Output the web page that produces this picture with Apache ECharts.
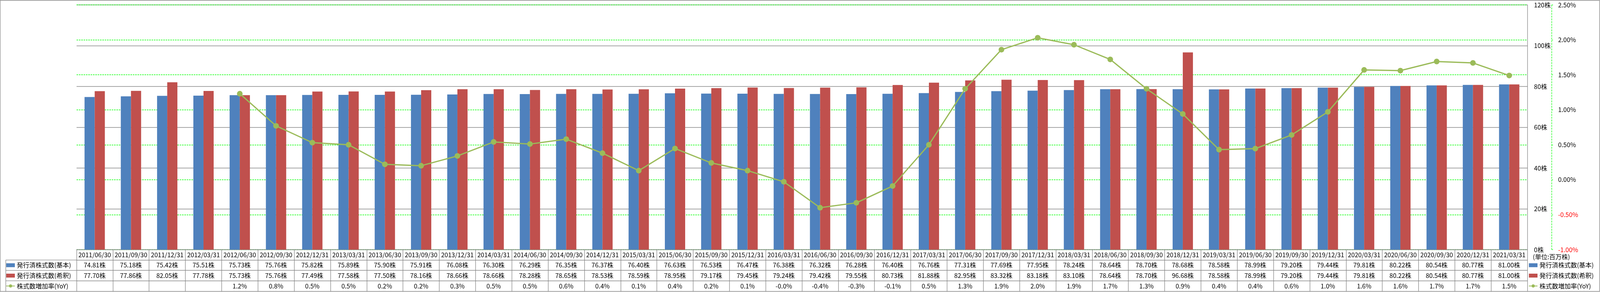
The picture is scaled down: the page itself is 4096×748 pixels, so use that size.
<!DOCTYPE html>
<html>
<head>
<meta charset="utf-8">
<script src="https://cdn.jsdelivr.net/npm/echarts@6/dist/echarts.min.js"></script>
<style>
html,body{margin:0;padding:0;background:#fff;}
#chart{width:4096px;height:748px;}
</style>
</head>
<body>
<div id="chart"></div>
<script>
// ---- data ----
const categories = ['2011/06/30','2011/09/30','2011/12/31','2012/03/31','2012/06/30','2012/09/30','2012/12/31','2013/03/31','2013/06/30','2013/09/30','2013/12/31','2014/03/31','2014/06/30','2014/09/30','2014/12/31','2015/03/31','2015/06/30','2015/09/30','2015/12/31','2016/03/31','2016/06/30','2016/09/30','2016/12/31','2017/03/31','2017/06/30','2017/09/30','2017/12/31','2018/03/31','2018/06/30','2018/09/30','2018/12/31','2019/03/31','2019/06/30','2019/09/30','2019/12/31','2020/03/31','2020/06/30','2020/09/30','2020/12/31','2021/03/31'];
const basicShares = [74.81,75.18,75.42,75.51,75.73,75.76,75.82,75.89,75.90,75.91,76.08,76.30,76.29,76.35,76.37,76.40,76.63,76.53,76.47,76.38,76.32,76.28,76.40,76.76,77.31,77.69,77.95,78.24,78.64,78.70,78.68,78.58,78.99,79.20,79.44,79.81,80.22,80.54,80.77,81.00];
const dilutedShares = [77.70,77.86,82.05,77.78,75.73,75.76,77.49,77.58,77.50,78.16,78.66,78.66,78.28,78.65,78.53,78.59,78.95,79.17,79.45,79.24,79.42,79.55,80.73,81.88,82.95,83.32,83.18,83.10,78.64,78.70,96.68,78.58,78.99,79.20,79.44,79.81,80.22,80.54,80.77,81.00];
const yoyGrowth = [null,null,null,null,1.23,0.77,0.53,0.50,0.22,0.20,0.34,0.54,0.51,0.58,0.38,0.13,0.446,0.24,0.13,-0.03,-0.40,-0.33,-0.09,0.50,1.30,1.86,2.03,1.93,1.72,1.30,0.94,0.43,0.445,0.64,0.97,1.57,1.56,1.69,1.67,1.49];
const seriesNames = ['発行済株式数(基本)','発行済株式数(希釈)','株式数増加率(YoY)'];
const leftTicks = [0,20,40,60,80,100,120];
const pctTicks = [-1.0,-0.5,0,0.5,1.0,1.5,2.0,2.5];
const unitLabel = '(単位:百万株)';

// ---- layout ----
const FONT = "'Noto Sans CJK JP','Noto Sans',sans-serif";
const GRAY = '#868686';
const BLUE = '#4F81BD', RED = '#C0504D', GREEN = '#9BBB59', LIME = '#00FF00';
const gridLeft = 196, gridRight = 3910, gridTop = 12.5, gridBottom = 639.5;
const rowH = 26.6;
const fs = 16;

function tableAxis(idx, labels) {
  return {
    type: 'category', gridIndex: 0, position: 'bottom', data: categories,
    offset: idx * rowH,
    axisLine: {show: true, onZero: false, lineStyle: {color: GRAY, width: 1.3}},
    axisTick: {show: false},
    axisPointer: {show: false},
    axisLabel: {interval: 0, margin: rowH / 2, verticalAlign: 'middle', fontSize: fs, color: '#000', fontFamily: FONT,
      formatter: (v, i) => labels[i]}
  };
}
const basicLabels = basicShares.map(v => v.toFixed(2) + '株');
const dilutedLabels = dilutedShares.map(v => v.toFixed(2) + '株');
const yoyLabels = yoyGrowth.map(v => v == null ? '' : v.toFixed(1) + '%');

const legendCommon = {
  orient: 'vertical', padding: 0, itemGap: rowH - 20, itemWidth: 22, itemHeight: 10,
  selectedMode: false,
  textStyle: {fontSize: fs, lineHeight: 20, color: '#000', fontFamily: FONT},
  data: [{name: seriesNames[0], icon: 'rect'}, {name: seriesNames[1], icon: 'rect'}, {name: seriesNames[2]}]
};

const option = {
  animation: false,
  backgroundColor: '#fff',
  textStyle: {fontFamily: FONT},
  grid: {left: gridLeft, right: 4096 - gridRight, top: gridTop, bottom: 748 - gridBottom},
  legend: [
    Object.assign({left: 15, top: gridBottom + rowH * 1.5 - 10}, legendCommon),
    Object.assign({left: 3913, top: gridBottom + rowH * 1.5 - 10}, legendCommon)
  ],
  xAxis: [
    {
      type: 'category', gridIndex: 0, position: 'bottom', data: categories,
      axisLine: {show: true, onZero: false, lineStyle: {color: GRAY, width: 1.3}},
      axisTick: {show: true, interval: 0, alignWithLabel: false, length: rowH * 4, lineStyle: {color: GRAY, width: 1.3}},
      axisLabel: {interval: 0, margin: rowH / 2, verticalAlign: 'middle', fontSize: fs, color: '#000', fontFamily: FONT}
    },
    tableAxis(1, basicLabels),
    tableAxis(2, dilutedLabels),
    tableAxis(3, yoyLabels)
  ],
  yAxis: [
    {
      type: 'value', position: 'right', min: leftTicks[0], max: leftTicks[leftTicks.length - 1], interval: 20,
      axisLine: {show: true, lineStyle: {color: GRAY, width: 1.3}},
      axisTick: {show: false},
      axisLabel: {margin: 17, fontSize: fs, color: '#000', fontFamily: FONT, formatter: '{value}株'},
      splitLine: {show: true, lineStyle: {color: GRAY, width: 1.3}}
    },
    {
      type: 'value', position: 'right', offset: 62.7, min: pctTicks[0], max: pctTicks[pctTicks.length - 1], interval: 0.5,
      axisLine: {show: true, lineStyle: {color: LIME, width: 1.2, type: [4, 3]}},
      axisTick: {show: true, length: 3, lineStyle: {color: LIME, width: 1.2}},
      axisLabel: {margin: 16, fontSize: fs, fontFamily: FONT,
        formatter: v => Number(v).toFixed(2) + '%',
        color: v => Number(v) < 0 ? '#FF0000' : '#000'},
      splitLine: {show: true, lineStyle: {color: LIME, width: 1.3, type: [4, 2]}}
    }
  ],
  series: [
    {name: seriesNames[0], type: 'bar', xAxisIndex: 0, yAxisIndex: 0, data: basicShares,
     itemStyle: {color: BLUE}, barGap: '0%', barCategoryGap: '44%'},
    {name: seriesNames[1], type: 'bar', xAxisIndex: 0, yAxisIndex: 0, data: dilutedShares,
     itemStyle: {color: RED}, barGap: '0%', barCategoryGap: '44%'},
    {name: seriesNames[2], type: 'line', xAxisIndex: 0, yAxisIndex: 1, data: yoyGrowth,
     symbol: 'circle', symbolSize: 14.5, showSymbol: true,
     lineStyle: {color: GREEN, width: 3.2}, itemStyle: {color: GREEN}, z: 5}
  ],
  graphic: [
    {type: 'rect', shape: {x: 0.5, y: 1, width: 4094.5, height: 745.5}, style: {fill: null, stroke: GRAY, lineWidth: 1.3}, silent: true},
    {type: 'line', shape: {x1: 14.8, y1: gridBottom + rowH, x2: 14.8, y2: gridBottom + rowH * 4}, style: {stroke: GRAY, lineWidth: 1.3}, silent: true},
    {type: 'line', shape: {x1: 14.8, y1: gridBottom + rowH, x2: gridLeft, y2: gridBottom + rowH}, style: {stroke: GRAY, lineWidth: 1.3}, silent: true},
    {type: 'line', shape: {x1: 14.8, y1: gridBottom + rowH * 2, x2: gridLeft, y2: gridBottom + rowH * 2}, style: {stroke: GRAY, lineWidth: 1.3}, silent: true},
    {type: 'line', shape: {x1: 14.8, y1: gridBottom + rowH * 3, x2: gridLeft, y2: gridBottom + rowH * 3}, style: {stroke: GRAY, lineWidth: 1.3}, silent: true},
    {type: 'text', left: 3924, top: 650, style: {text: unitLabel, fontSize: fs, fill: '#000', fontFamily: FONT}, silent: true}
  ]
};

const chart = echarts.init(document.getElementById('chart'), null, {renderer: 'canvas'});
chart.setOption(option);
</script>
</body>
</html>
